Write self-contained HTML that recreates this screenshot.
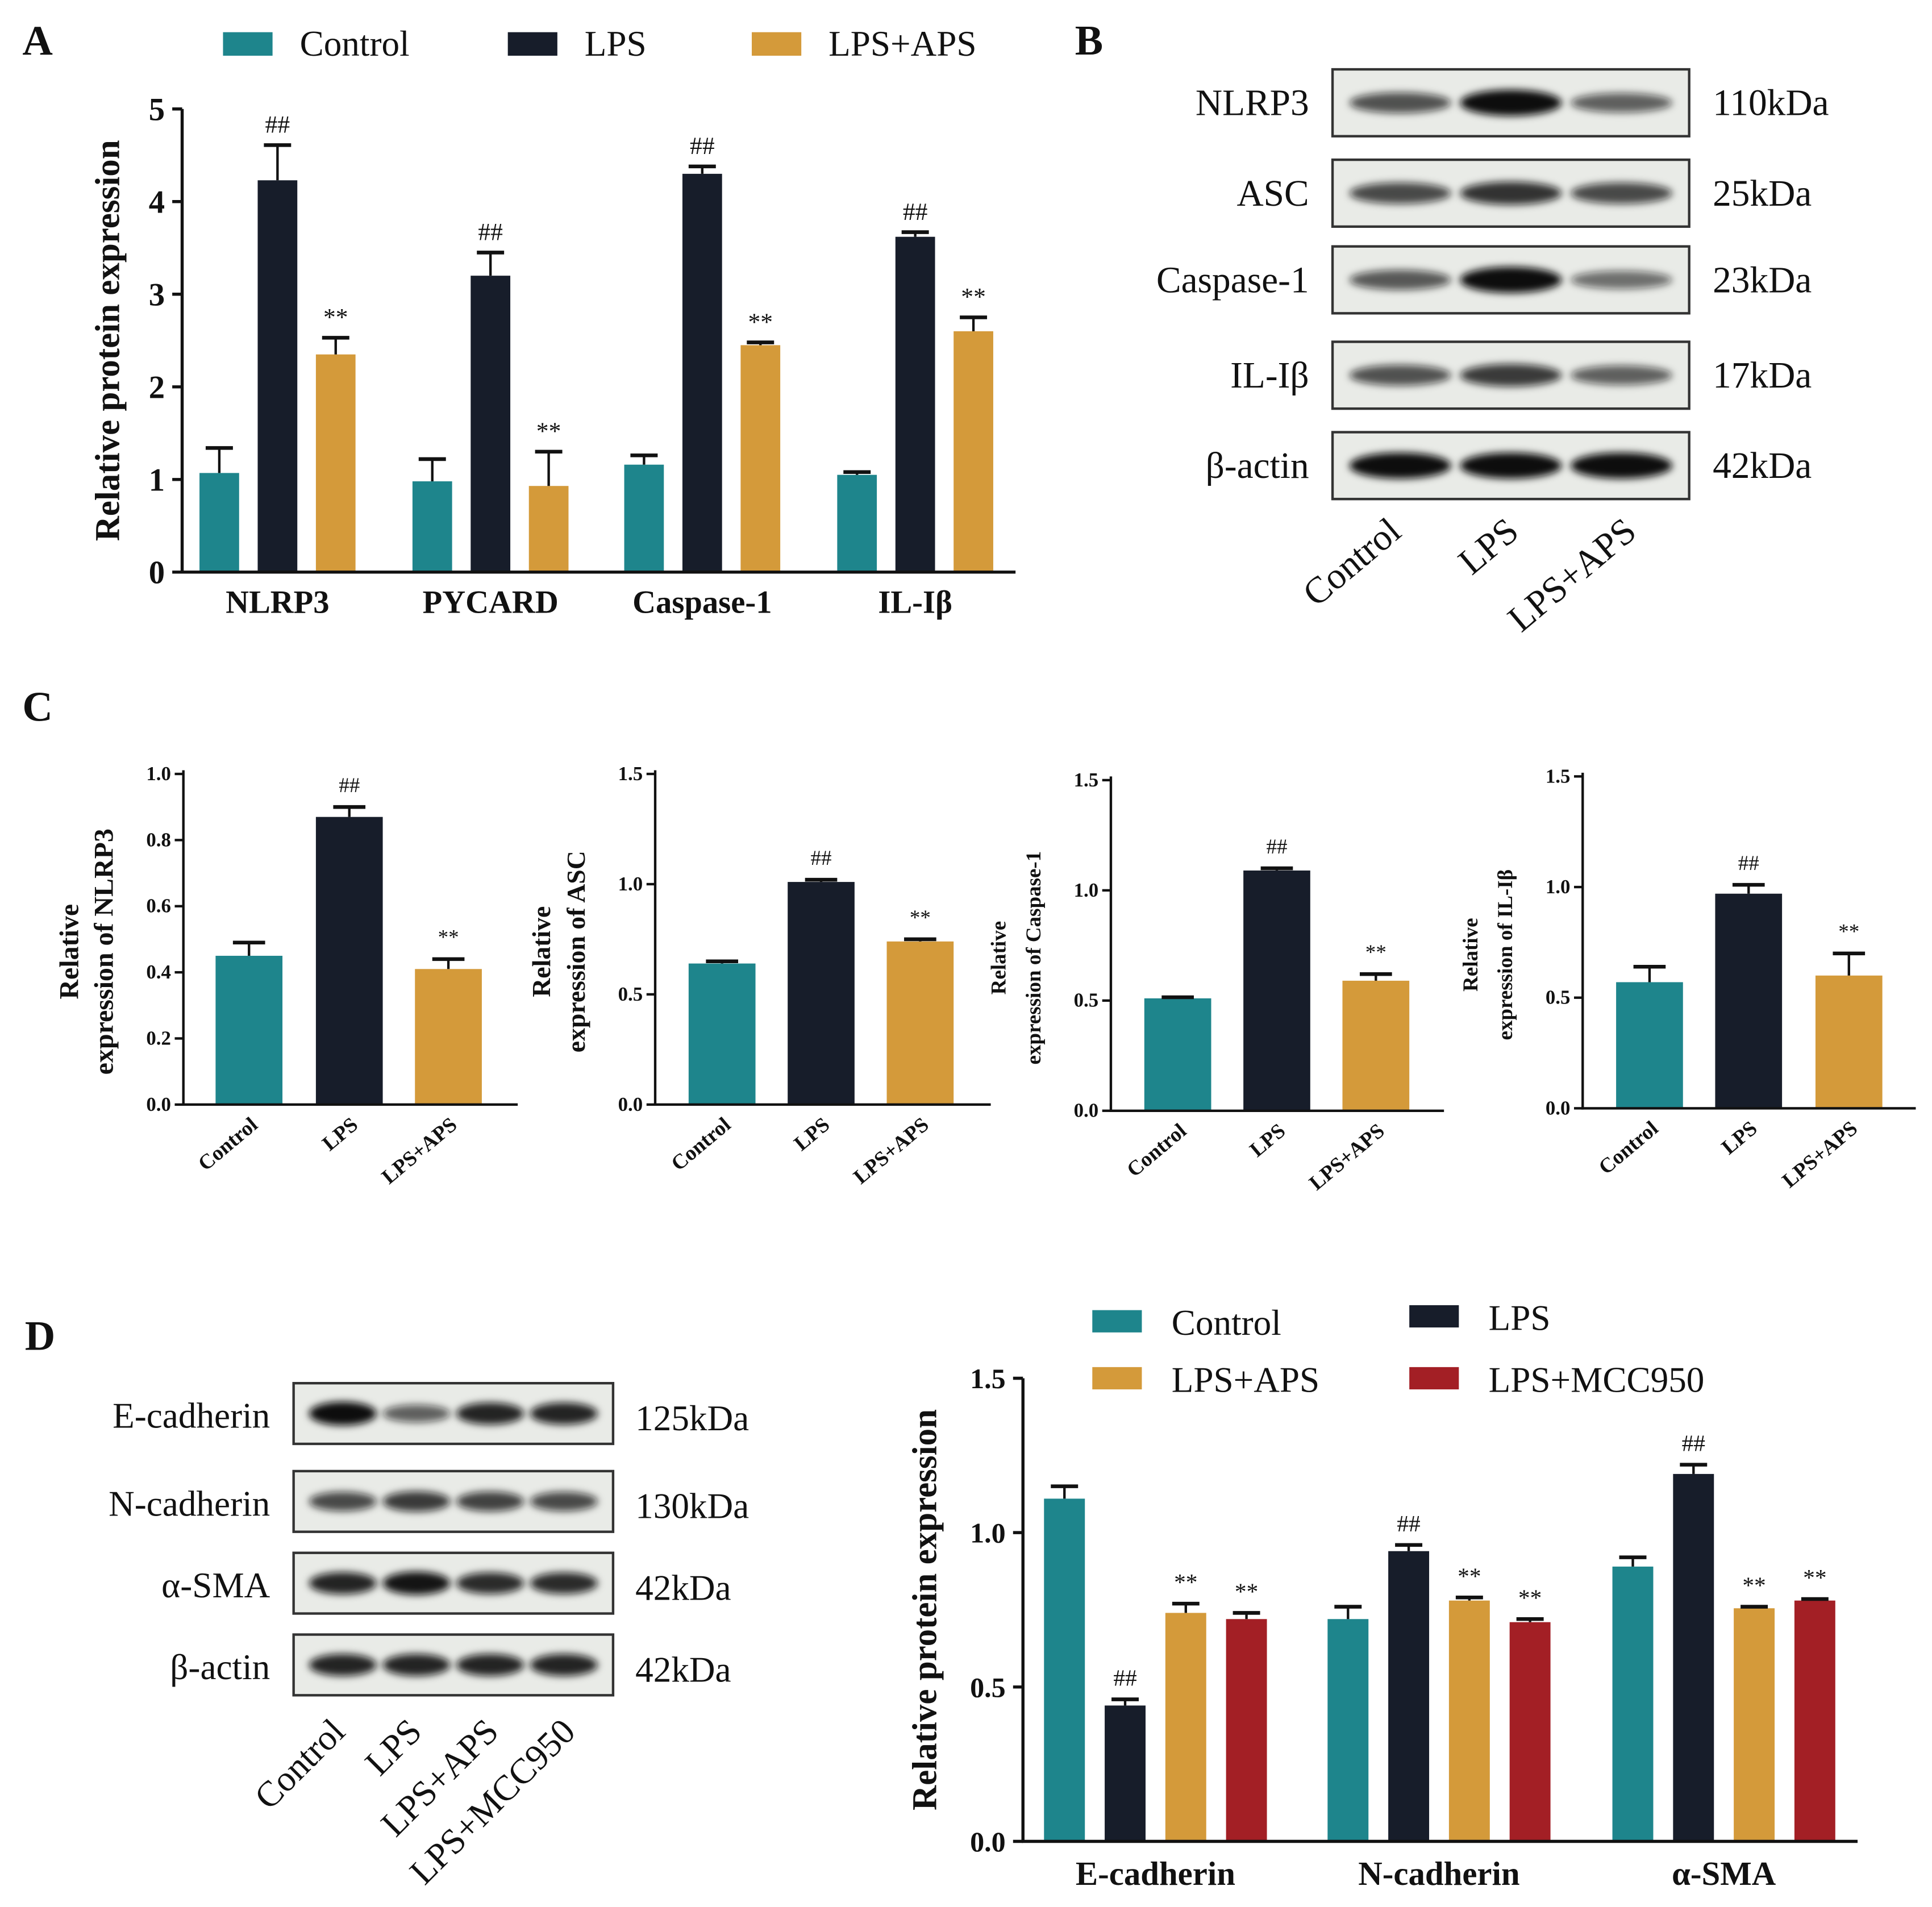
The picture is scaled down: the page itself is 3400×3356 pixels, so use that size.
<!DOCTYPE html>
<html><head><meta charset="utf-8"><style>
html,body{margin:0;padding:0;background:#fff}
svg{display:block}
text{font-family:"Liberation Serif",serif;fill:#111}
</style></head><body>
<svg id="s" width="3400" height="3356" viewBox="0 0 1560 1540" xmlns="http://www.w3.org/2000/svg">
<defs><filter id="bl" x="-20%" y="-50%" width="140%" height="200%"><feGaussianBlur stdDeviation="3"/></filter></defs>
<g id="root"></g>
</svg>
<script>
// ---- Data ----
const colors=['#1e858c','#171d2a','#d49a3a','#a31f25'];
const groupsA=['Control','LPS','LPS+APS'];
const catsA=['NLRP3','PYCARD','Caspase-1','IL-Iβ'];
const valsA_ctrl=[1.07,0.98,1.16,1.05];
const valsA_lps=[4.23,3.2,4.3,3.62];
const valsA_aps=[2.35,0.93,2.45,2.6];
const errA_ctrl=[0.27,0.24,0.1,0.03];
const errA_lps=[0.38,0.25,0.08,0.05];
const errA_aps=[0.18,0.37,0.03,0.15];
const ticksA=[0,1,2,3,4,5];

const c1Vals=[0.45,0.87,0.41], c1Err=[0.04,0.03,0.03];
const c2Vals=[0.64,1.01,0.74], c2Err=[0.01,0.01,0.01];
const c3Vals=[0.51,1.09,0.59], c3Err=[0.005,0.01,0.03];
const c4Vals=[0.57,0.97,0.6], c4Err=[0.07,0.04,0.1];
const c1Ticks=['0.0','0.2','0.4','0.6','0.8','1.0'];
const c2Ticks=['0.0','0.5','1.0','1.5'];

const catsD=['E-cadherin','N-cadherin','α-SMA'];
const groupsD=['Control','LPS','LPS+APS','LPS+MCC950'];
const valsD_ctrl=[1.11,0.72,0.89];
const valsD_lps=[0.44,0.94,1.19];
const valsD_aps=[0.74,0.78,0.755];
const valsD_mcc=[0.72,0.71,0.78];
const errD_ctrl=[0.04,0.04,0.03];
const errD_lps=[0.02,0.02,0.03];
const errD_aps=[0.03,0.01,0.005];
const errD_mcc=[0.02,0.01,0.005];
const ticksD=['0.0','0.5','1.0','1.5'];
const marksD=[['','##','**','**'],['','##','**','**'],['','##','**','**']];

const NS='http://www.w3.org/2000/svg';
const root=document.getElementById('root');
function el(tag,attrs,parent,txt){const e=document.createElementNS(NS,tag);for(const k in attrs)e.setAttribute(k,attrs[k]);if(txt!==undefined)e.textContent=txt;(parent||root).appendChild(e);return e;}
function txt(x,y,s,size,opts,name){const o=Object.assign({x:x,y:y,'font-size':size},opts||{});const t=el('text',o,null,s);

return t;}
function line(x1,y1,x2,y2,w,name){const l=el('line',{x1,y1,x2,y2,stroke:'#111','stroke-width':w||2});

return l;}
function bar(x,y0,y1,w,c,name){const r=el('rect',{x:x-w/2,y:Math.min(y0,y1),width:w,height:Math.abs(y0-y1),fill:c});

return r;}
function errbar(x,yTop,yErr,cap){line(x,yTop,x,yErr,2,'error-bar');line(x-cap,yErr,x+cap,yErr,3,'error-cap');}

// Panel letters
txt(18,44,'A',34,{'font-weight':'bold'},'panel-a-letter');
txt(868,44,'B',34,{'font-weight':'bold'},'panel-b-letter');
txt(18,582,'C',34,{'font-weight':'bold'},'panel-c-letter');
txt(20,1090,'D',34,{'font-weight':'bold'},'panel-d-letter');

// ---- Panel A ----
(function(){
 const x0=147,y0=462,yTop=88,xEnd=820,max=5;
 const ys=v=>y0-(v/max)*(y0-yTop);
 const legX=[180,410,607];
 groupsA.forEach((g,i)=>{const r=el('rect',{x:legX[i],y:26,width:40,height:19,fill:colors[i]});
  
  
  txt(legX[i]+62,45,g,29,{},'legend-entry');});
 const centers=[224,396,567,739];
 const sets=[valsA_ctrl,valsA_lps,valsA_aps], errs=[errA_ctrl,errA_lps,errA_aps];
 catsA.forEach((c,ci)=>{
  for(let k=0;k<3;k++){const x=centers[ci]+(k-1)*47;const v=sets[k][ci];
   bar(x,y0,ys(v),32,colors[k],'bar-a-'+ci+'-'+k);
   errbar(x,ys(v),ys(v+errs[k][ci]),11);
   if(k>0)txt(x,ys(v+errs[k][ci])-10,k==1?'##':'**',20,{'text-anchor':'middle'},'significance-mark');}
  txt(centers[ci],495,c,26,{'text-anchor':'middle','font-weight':'bold'},'x-tick-label');
 });
 line(x0,yTop,x0,y0+1,2.5,'y-axis');line(x0-1,y0,xEnd,y0,2.5,'x-axis');
 ticksA.forEach(t=>{line(x0-8,ys(t),x0,ys(t),2.5,'y-tick');txt(x0-14,ys(t)+9,String(t),26,{'text-anchor':'end','font-weight':'bold'},'y-tick-label');});
 txt(0,0,'Relative protein expression',28,{'font-weight':'bold','text-anchor':'middle',transform:'translate(96,275) rotate(-90)'},'y-axis-title');
})();

// ---- Blots ----
function blotRow(x,y,w,h,intens,name){
 const g=el('g',{});
 el('rect',{x:x,y:y,width:w,height:h,fill:'#e9ebe7',stroke:'#333','stroke-width':2},g);
 const n=intens.length,lw=(w-20)/n;
 intens.forEach((a,i)=>{el('ellipse',{cx:x+10+lw*(i+0.5),cy:y+h*0.5,rx:lw*0.46,ry:h*0.15*(0.7+a*0.6),fill:'#111','fill-opacity':Math.min(1,0.35+a*0.65),filter:'url(#bl)'},g);});
}
const blotB=[['NLRP3','110kDa',[0.55,1,0.45]],['ASC','25kDa',[0.6,0.75,0.6]],['Caspase-1','23kDa',[0.5,1,0.35]],['IL-Iβ','17kDa',[0.55,0.7,0.45]],['β-actin','42kDa',[1,1,1]]];
const blotBY=[56,129,199,276,349];
blotB.forEach((b,i)=>{blotRow(1076,blotBY[i],288,54,b[2],'blot-b-'+i);
 txt(1057,blotBY[i]+37,b[0],30,{'text-anchor':'end'},'blot-label');
 txt(1383,blotBY[i]+37,b[1],30,{},'kda-label');});
['Control','LPS','LPS+APS'].forEach((l,i)=>{txt(0,0,l,30,{'text-anchor':'end',transform:`translate(${1133+i*95},${432}) rotate(-40)`},'lane-label');});

const blotD=[['E-cadherin','125kDa',[1,0.45,0.85,0.85]],['N-cadherin','130kDa',[0.6,0.7,0.65,0.6]],['α-SMA','42kDa',[0.85,0.95,0.8,0.8]],['β-actin','42kDa',[0.85,0.85,0.85,0.85]]];
const blotDY=[1117,1188,1254,1320];
blotD.forEach((b,i)=>{blotRow(237,blotDY[i],258,49,b[2],'blot-d-'+i);
 txt(218,blotDY[i]+36,b[0],29,{'text-anchor':'end'},'blot-label');
 txt(513,blotDY[i]+38,b[1],29,{},'kda-label');});
['Control','LPS','LPS+APS','LPS+MCC950'].forEach((l,i)=>{txt(0,0,l,29,{'text-anchor':'end',transform:`translate(${280+i*62},${1400}) rotate(-45)`},'lane-label');});

// ---- Panel C ----
function smallChart(x0,y0,yTop,xEnd,max,ticks,vals,errs,centers,title2,tsize){
 const ys=v=>y0-(v/max)*(y0-yTop);
 vals.forEach((v,k)=>{bar(centers[k],y0,ys(v),54,colors[k],'bar-c-'+k);
  errbar(centers[k],ys(v),ys(v+errs[k]),13);
  if(k>0)txt(centers[k],ys(v+errs[k])-12,k==1?'##':'**',17,{'text-anchor':'middle'},'significance-mark');});
 line(x0,yTop-3,x0,y0+1,2,'y-axis');line(x0-1,y0,xEnd,y0,2,'x-axis');
 ticks.forEach(t=>{const v=parseFloat(t);line(x0-7,ys(v),x0,ys(v),2,'y-tick');txt(x0-10,ys(v)+5,t,16,{'text-anchor':'end','font-weight':'bold'},'y-tick-label');});
 groupsA.forEach((g,k)=>txt(0,0,g,17,{'text-anchor':'end','font-weight':'bold',transform:`translate(${centers[k]+8},${y0+18}) rotate(-40)`},'x-tick-label'));
 const cy=(y0+yTop)/2+10;
 txt(0,0,'Relative',tsize,{'text-anchor':'middle','font-weight':'bold',transform:`translate(${x0-85},${cy}) rotate(-90)`},'y-axis-title');
 txt(0,0,title2,tsize,{'text-anchor':'middle','font-weight':'bold',transform:`translate(${x0-57},${cy}) rotate(-90)`},'y-axis-title');
}
smallChart(148,892,625,418,1.0,c1Ticks,c1Vals,c1Err,[201,282,362],'expression of NLRP3',22);
smallChart(529,892,625,800,1.5,c2Ticks,c2Vals,c2Err,[583,663,743],'expression of ASC',21);
smallChart(897,897,630,1166,1.5,c2Ticks,c3Vals,c3Err,[951,1031,1111],'expression of Caspase-1',17);
smallChart(1278,895,627,1547,1.5,c2Ticks,c4Vals,c4Err,[1332,1412,1493],'expression of IL-Iβ',17);

// ---- Panel D chart ----
(function(){
 const x0=826,y0=1487,yTop=1113,xEnd=1500,max=1.5;
 const ys=v=>y0-(v/max)*(y0-yTop);
 const leg=[[882,1058],[1138,1054],[882,1104],[1138,1104]];
 groupsD.forEach((g,i)=>{const r=el('rect',{x:leg[i][0],y:leg[i][1],width:40,height:18,fill:colors[i]});
  
  
  txt(leg[i][0]+64,leg[i][1]+20,g,29,{},'legend-entry');});
 const sets=[valsD_ctrl,valsD_lps,valsD_aps,valsD_mcc],errs=[errD_ctrl,errD_lps,errD_aps,errD_mcc];
 const centers=[933,1162,1392];
 catsD.forEach((c,ci)=>{
  for(let k=0;k<4;k++){const x=centers[ci]+(k-1.5)*49;const v=sets[k][ci];
   bar(x,y0,ys(v),33,colors[k],'bar-d-'+ci+'-'+k);
   errbar(x,ys(v),ys(v+errs[k][ci]),11);
   if(marksD[ci][k])txt(x,ys(v+errs[k][ci])-11,marksD[ci][k],19,{'text-anchor':'middle'},'significance-mark');}
  txt(centers[ci],1522,c,27,{'text-anchor':'middle','font-weight':'bold'},'x-tick-label');
 });
 line(x0,yTop,x0,y0+1,2.5,'y-axis');line(x0-1,y0,xEnd,y0,2.5,'x-axis');
 ticksD.forEach(t=>{const v=parseFloat(t);line(x0-8,ys(v),x0,ys(v),2.5,'y-tick');txt(x0-14,ys(v)+8,t,23,{'text-anchor':'end','font-weight':'bold'},'y-tick-label');});
 txt(0,0,'Relative protein expression',28,{'font-weight':'bold','text-anchor':'middle',transform:'translate(756,1300) rotate(-90)'},'y-axis-title');
})();
</script>
</body></html>
